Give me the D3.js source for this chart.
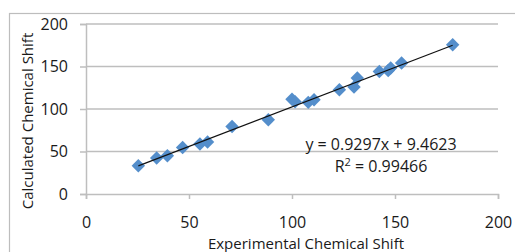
<!DOCTYPE html>
<html>
<head>
<meta charset="utf-8">
<script src="https://cdn.jsdelivr.net/npm/d3@7"></script>
<style>
  body { margin: 0; background: #fff; }
  svg { display: block; font-family: "Open Sans", "Noto Sans", sans-serif; }
</style>
</head>
<body>
<svg id="chart"></svg>
<script>
// Experimental vs calculated chemical shifts
const experimental = [25.4, 34.3, 39.5, 46.9, 55.3, 59.0, 70.9, 88.5, 100.0, 101.5,
    107.9, 110.7, 123.0, 130.1, 131.7, 142.4, 146.7, 147.9, 153.2, 178.0];
const calculated = [33.3, 42.3, 45.0, 54.8, 58.8, 61.2, 79.5, 87.4, 111.5, 108.5,
    107.8, 110.9, 122.7, 125.9, 136.5, 144.2, 145.4, 148.2, 154.1, 175.6];
const xTicks = [0, 50, 100, 150, 200];
const yTicks = [0, 50, 100, 150, 200];
const slope = 0.9297;
const intercept = 9.4623;
const rSquared = 0.99466;

const W = 515, H = 252;
const margin = { left: 86, right: 17, top: 24, bottom: 58 };

const svg = d3.select('#chart').attr('width', W).attr('height', H);

// outer chart border
svg.append('rect')
    .attr('x', 9.5).attr('y', 13.5)
    .attr('width', W).attr('height', H)
    .attr('fill', 'none').attr('stroke', '#bdbdbd').attr('stroke-width', 1.2);

const x = d3.scaleLinear().domain([0, 200]).range([margin.left, W - margin.right]);
const y = d3.scaleLinear().domain([0, 200]).range([H - margin.bottom, margin.top]);

// horizontal gridlines
svg.append('g')
    .selectAll('line')
    .data(yTicks.filter(d => d > 0))
    .join('line')
    .attr('x1', x(0)).attr('x2', x(200))
    .attr('y1', d => y(d)).attr('y2', d => y(d))
    .attr('stroke', '#bebebe').attr('stroke-width', 1.5);

// axes
const xAxis = svg.append('g')
    .attr('transform', `translate(0,${y(0)})`)
    .call(d3.axisBottom(x).tickValues(xTicks).tickSize(5).tickPadding(18));
const yAxis = svg.append('g')
    .attr('transform', `translate(${x(0)},0)`)
    .call(d3.axisLeft(y).tickValues(yTicks).tickSize(6).tickPadding(12));

[xAxis, yAxis].forEach(g => {
    g.select('.domain').attr('stroke', '#bebebe').attr('stroke-width', 1.5);
    g.selectAll('.tick line').attr('stroke', '#bebebe').attr('stroke-width', 1.5);
    g.selectAll('.tick text')
        .attr('fill', '#1a1a1a')
        .style('font-size', '16px')
        .style('font-family', '"Open Sans", sans-serif');
});

// points
const diamond = d3.symbol().type(d3.symbolDiamond2).size(115);
svg.append('g')
    .selectAll('path')
    .data(experimental.map((e, i) => [e, calculated[i]]))
    .join('path')
    .attr('d', diamond)
    .attr('transform', d => `translate(${x(d[0])},${y(d[1])})`)
    .attr('fill', '#548ecb');

// linear trendline
const xMin = d3.min(experimental), xMax = d3.max(experimental);
svg.append('line')
    .attr('x1', x(xMin)).attr('y1', y(slope * xMin + intercept))
    .attr('x2', x(xMax)).attr('y2', y(slope * xMax + intercept))
    .attr('stroke', '#111').attr('stroke-width', 1.2);

// equation labels
svg.append('text')
    .attr('x', 381).attr('y', 150)
    .attr('text-anchor', 'middle')
    .style('font-size', '16px')
    .attr('fill', '#1a1a1a')
    .text(`y = ${slope}x + ${intercept}`);
const r2 = svg.append('text')
    .attr('x', 381).attr('y', 172)
    .attr('text-anchor', 'middle')
    .style('font-size', '16px')
    .attr('fill', '#1a1a1a');
r2.append('tspan').text('R');
r2.append('tspan').attr('dy', -6).style('font-size', '11px').text('2');
r2.append('tspan').attr('dy', 6).text(` = ${rSquared}`);

// axis titles
svg.append('text')
    .attr('x', 306).attr('y', 249)
    .attr('text-anchor', 'middle')
    .style('font-size', '15px')
    .attr('fill', '#1a1a1a')
    .text('Experimental Chemical Shift');
svg.append('text')
    .attr('transform', 'translate(33,121) rotate(-90)')
    .attr('text-anchor', 'middle')
    .style('font-size', '15px')
    .attr('fill', '#1a1a1a')
    .text('Calculated Chemical Shift');
</script>
</body>
</html>
